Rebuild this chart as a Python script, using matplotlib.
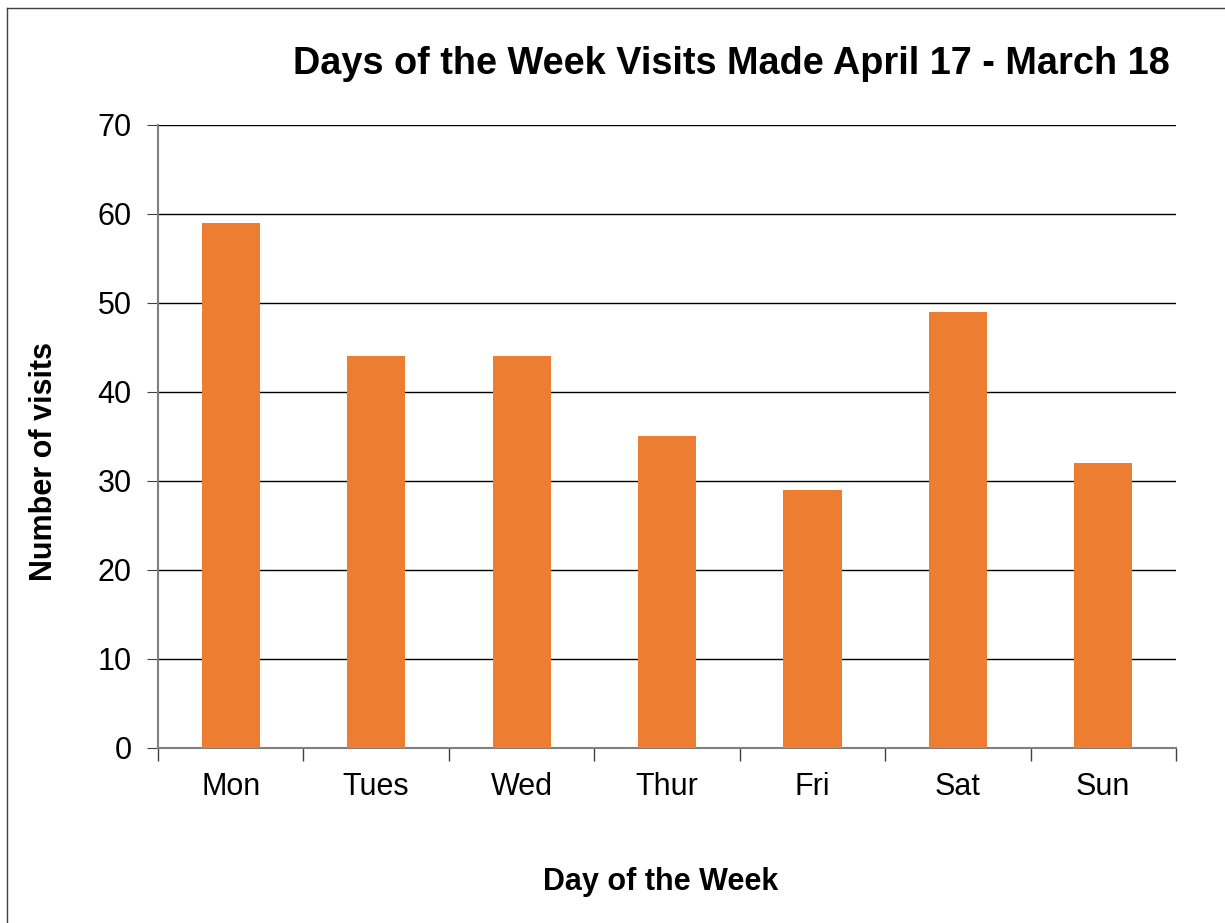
import matplotlib.pyplot as plt
from matplotlib.lines import Line2D

days = ['Mon', 'Tues', 'Wed', 'Thur', 'Fri', 'Sat', 'Sun']
visits = [59, 44, 44, 35, 29, 49, 32]

plt.rcParams['font.family'] = ['Liberation Sans', 'DejaVu Sans']

fig = plt.figure(figsize=(12.25, 9.23), dpi=100)
ax = fig.add_axes([0.129, 0.1896, 0.831, 0.675])

x = list(range(len(days)))
ax.bar(x, visits, width=0.4, color='#ED7D31', zorder=3)

ax.set_xlim(-0.5, len(days) - 0.5)
ax.set_ylim(0, 70)
ax.set_yticks(range(0, 71, 10))
ax.grid(axis='y', color='black', linewidth=1, zorder=0)
ax.set_axisbelow(True)

ax.set_xticks(x)
ax.set_xticklabels(days, fontsize=22)
ax.set_xticks([i - 0.5 for i in range(len(days) + 1)], minor=True)
ax.tick_params(axis='x', which='major', length=0, pad=17)
ax.tick_params(axis='x', which='minor', length=9, color='#404040', width=1)
ax.tick_params(axis='y', labelsize=22, length=8, color='#404040', pad=11)

for s in ['top', 'right']:
    ax.spines[s].set_visible(False)
for s in ['left', 'bottom']:
    ax.spines[s].set_color('#808080')
    ax.spines[s].set_linewidth(1.5)

fig.text(0.597, 0.931, 'Days of the Week Visits Made April 17 - March 18',
         ha='center', va='center', fontsize=27.3, fontweight='bold')
fig.text(0.539, 0.044, 'Day of the Week', ha='center', va='center',
         fontsize=22, fontweight='bold')
fig.text(0.036, 0.5, 'Number of visits', ha='center', va='center',
         rotation=90, fontsize=22, fontweight='bold')

# partial frame around chart area
fig.add_artist(Line2D([0.006, 0.006], [0, 0.991], transform=fig.transFigure,
                      color='#404040', linewidth=1))
fig.add_artist(Line2D([0.006, 1], [0.991, 0.991], transform=fig.transFigure,
                      color='#404040', linewidth=1))

fig.savefig('out.png', dpi=100)
